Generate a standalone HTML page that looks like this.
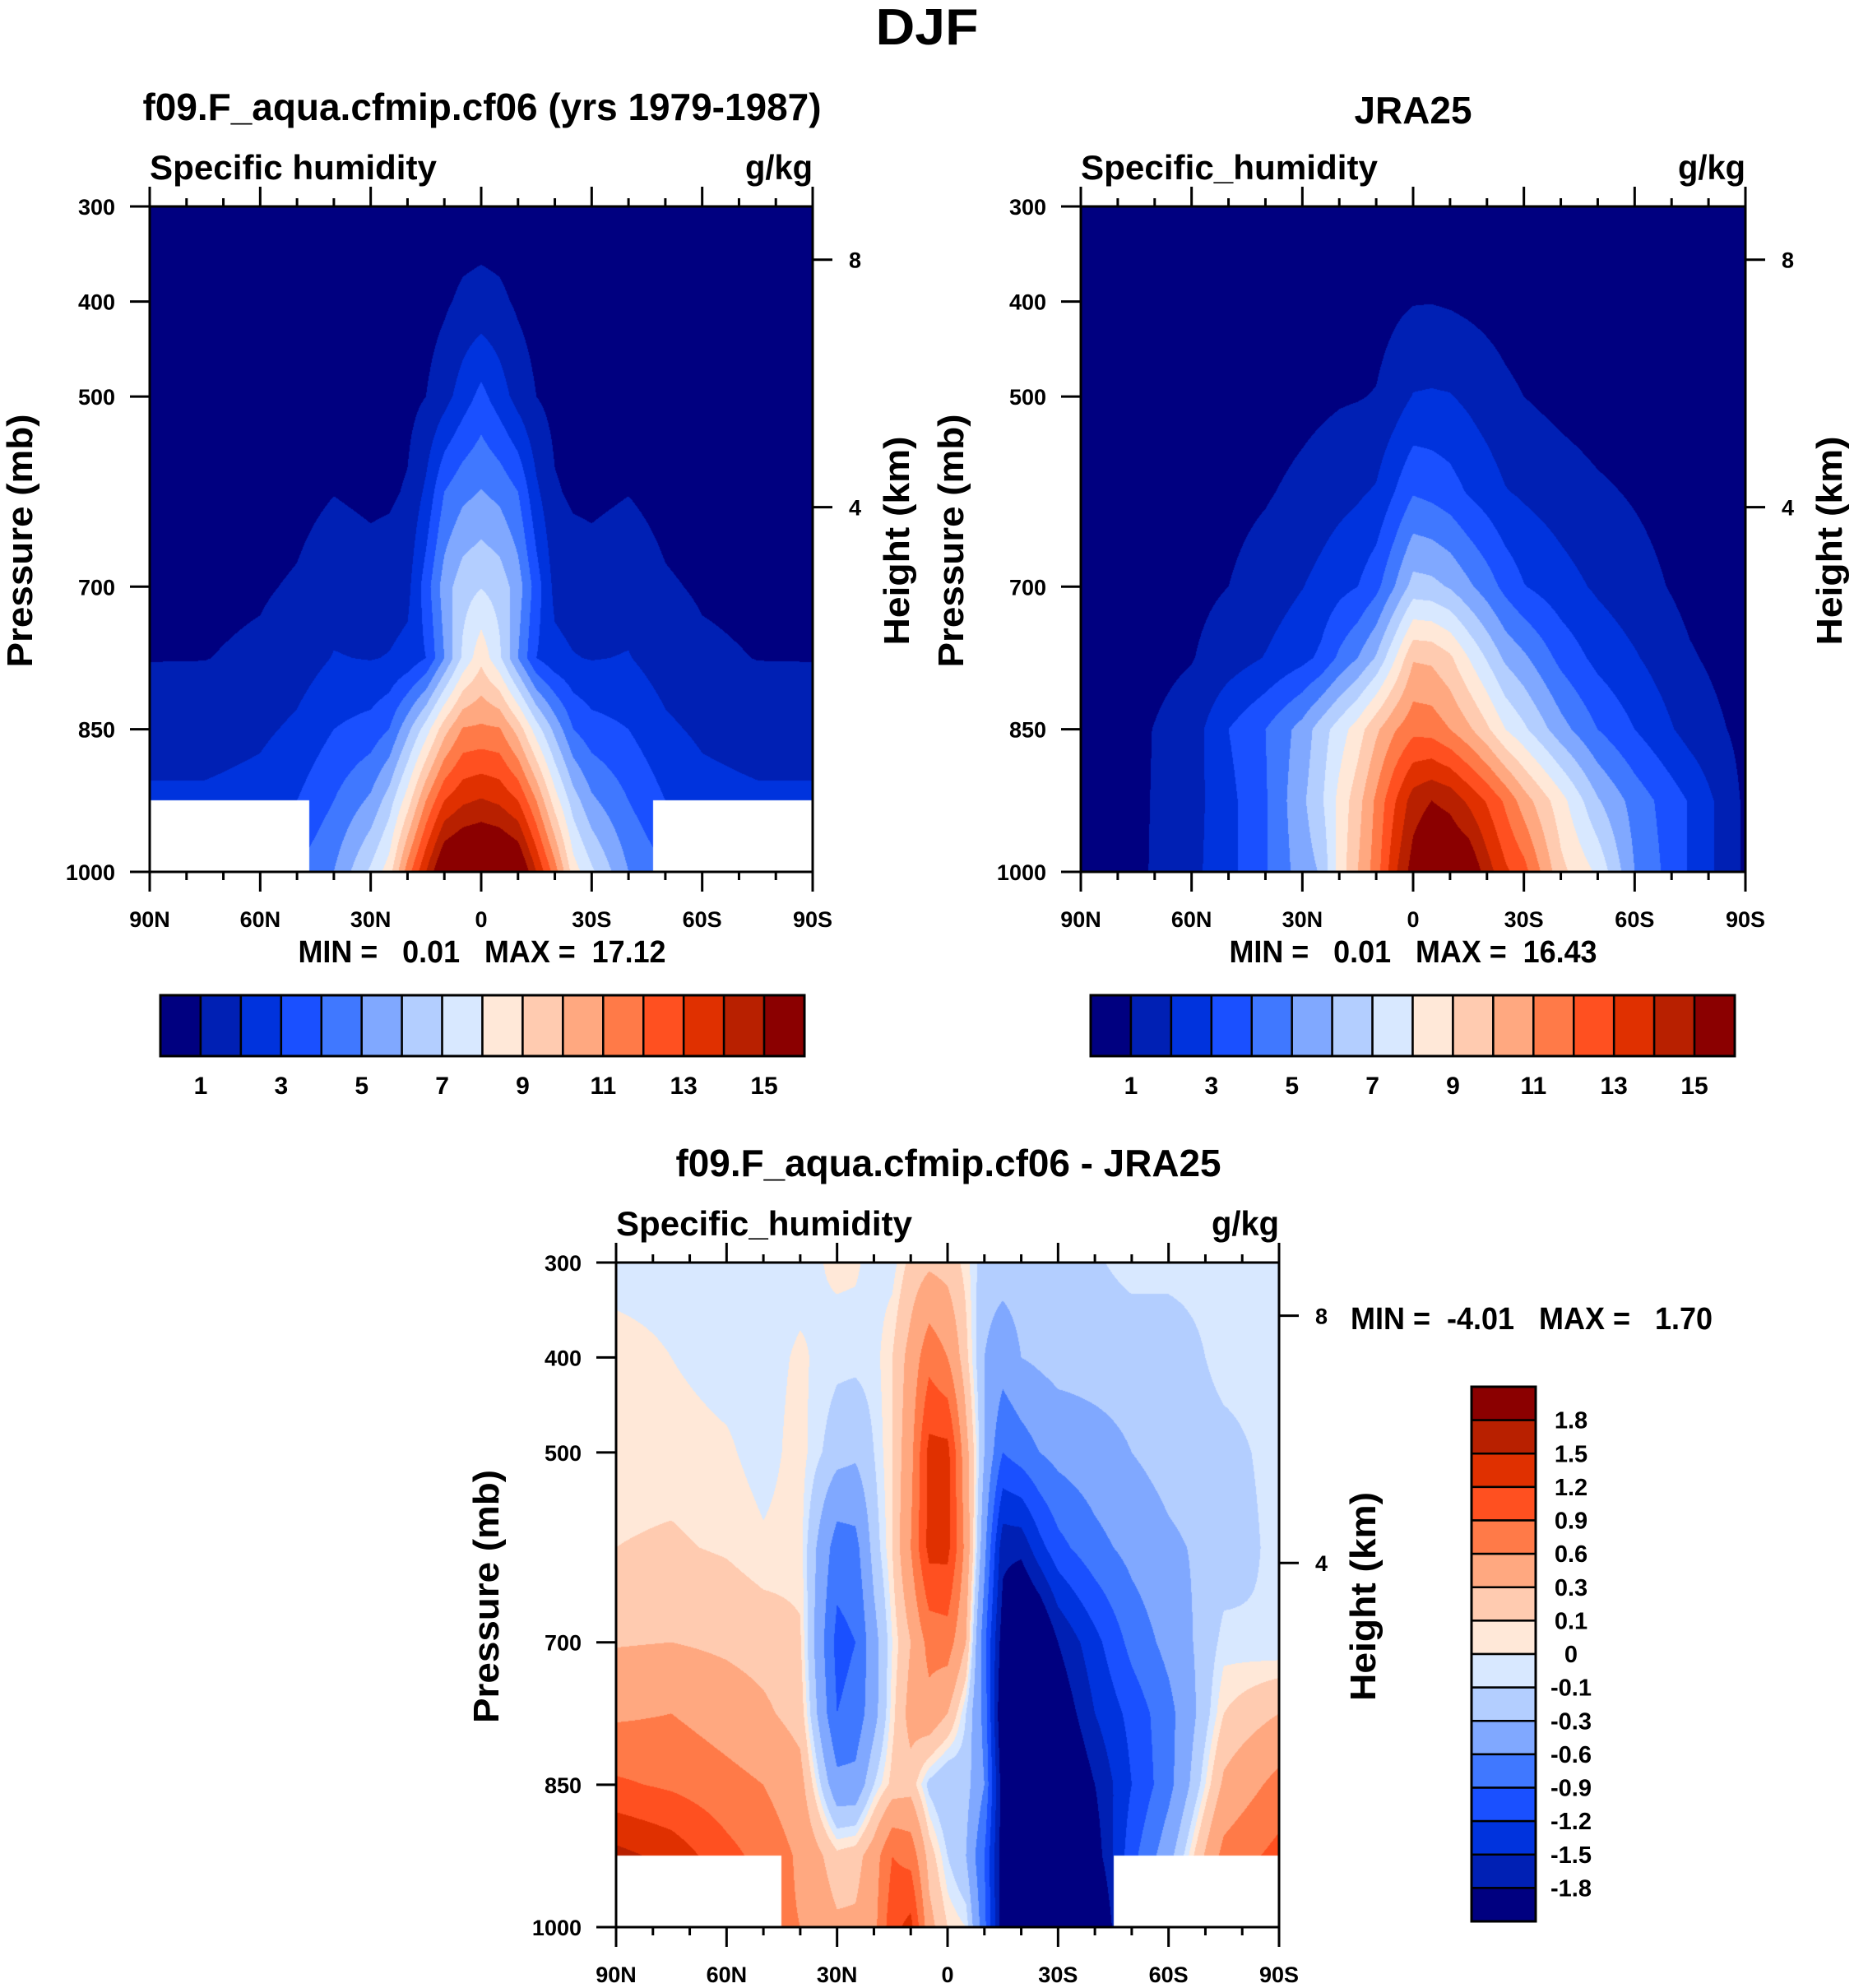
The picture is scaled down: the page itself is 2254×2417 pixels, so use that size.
<!DOCTYPE html>
<html><head><meta charset="utf-8">
<style>
html,body{margin:0;padding:0;background:#fff;}
#root{position:relative;width:2254px;height:2417px;overflow:hidden;background:#fff;}
canvas{position:absolute;}
svg{position:absolute;left:0;top:0;}
text{font-family:"Liberation Sans",Arial,sans-serif;font-weight:bold;fill:#000;}
</style></head>
<body>
<div id="root">
<canvas id="c1" width="806" height="809" style="left:182px;top:251px"></canvas>
<canvas id="c2" width="808" height="809" style="left:1314px;top:251px"></canvas>
<canvas id="c3" width="806" height="808" style="left:749px;top:1535px"></canvas>
<svg id="ov" width="2254" height="2417">
<text x="1127" y="54" text-anchor="middle" font-size="62" textLength="125" lengthAdjust="spacingAndGlyphs">DJF</text>
<text x="586" y="146" text-anchor="middle" font-size="46" textLength="825" lengthAdjust="spacingAndGlyphs">f09.F_aqua.cfmip.cf06 (yrs 1979-1987)</text>
<text x="1718" y="150" text-anchor="middle" font-size="46" textLength="143" lengthAdjust="spacingAndGlyphs">JRA25</text>
<text x="1153" y="1430" text-anchor="middle" font-size="46" textLength="663" lengthAdjust="spacingAndGlyphs">f09.F_aqua.cfmip.cf06 - JRA25</text>
</svg>
</div>
<script>
// ---- data ----
const lats = [90,75,60,50,40,30,25,20,15,10,5,0,-5,-10,-15,-20,-25,-30,-40,-50,-60,-75,-90];
const presLevels = [300,400,500,600,700,775,850,925,1000];
const levelsQ = [1,2,3,4,5,6,7,8,9,10,11,12,13,14,15];
const levelsDiff = [-1.8,-1.5,-1.2,-0.9,-0.6,-0.3,-0.1,0,0.1,0.3,0.6,0.9,1.2,1.5,1.8];
const labelsQ = ['1','3','5','7','9','11','13','15'];
const labelsDiff = ['1.8','1.5','1.2','0.9','0.6','0.3','0.1','0','-0.1','-0.3','-0.6','-0.9','-1.2','-1.5','-1.8'];
const latTickLabels = ['90N','60N','30N','0','30S','60S','90S'];
const pressureTicks = [300,400,500,700,850,1000];
const heightTicksKm = [8,4];
const palette = ['#000080','#0020b4','#0033dd','#1a50ff','#4078ff','#80a8ff','#b3ceff','#d8e8ff','#ffe8d8','#ffcbb0','#ffa880','#ff7a48','#ff5020','#e03000','#b82000','#8b0000'];
const modelQ = [
[.1,.1,.1,.1,.15,.2,.2,.3,.35,.35,.42,.45,.42,.35,.35,.3,.2,.2,.15,.1,.1,.1,.1],
[.2,.2,.2,.25,.3,.3,.35,.45,.6,.85,1.2,1.35,1.2,.85,.6,.45,.35,.3,.3,.25,.2,.2,.2],
[.3,.3,.35,.4,.55,.5,.55,.7,1.0,1.6,2.5,3.3,2.5,1.6,1.0,.7,.55,.5,.55,.4,.35,.3,.3],
[.5,.5,.55,.7,.97,.8,.85,1.1,2.2,4.0,4.7,5.05,4.7,4.0,2.2,1.1,.85,.8,.97,.7,.55,.5,.5],
[.75,.8,.9,1.1,1.6,1.4,1.5,1.7,3.5,5.5,6.6,6.95,6.6,5.5,3.5,1.7,1.5,1.4,1.6,1.1,.9,.8,.75],
[.97,.98,1.15,1.5,2.05,1.95,2.05,2.3,3.0,5.0,7.2,8.7,7.2,5.0,3.0,2.3,2.05,1.95,2.05,1.5,1.15,.98,.97],
[1.5,1.5,1.8,2.2,3.0,3.4,4.0,5.7,7.5,9.6,11.1,11.2,11.1,9.6,7.5,5.7,4.0,3.4,3.0,2.2,1.8,1.5,1.5],
[2.2,2.2,2.4,3.0,4.0,5.2,6.5,8.5,11,13,13.8,14.1,13.8,13,11,8.5,6.5,5.2,4.0,3.0,2.4,2.2,2.2],
[2.8,2.8,3.0,4.0,5.0,7.2,8.5,11.5,14,16.5,17,17.1,17,16.5,14,11.5,8.5,7.2,5.0,4.0,3.0,2.8,2.8]
];
const jraQ = [
[.05,.05,.08,.1,.12,.15,.17,.2,.22,.25,.28,.3,.3,.3,.28,.25,.22,.2,.15,.1,.08,.06,.05],
[.05,.08,.1,.15,.2,.3,.35,.4,.5,.6,.8,.95,.97,.9,.8,.7,.6,.5,.35,.25,.2,.1,.08],
[.1,.15,.25,.35,.5,.7,.8,.9,.95,1.05,1.5,2.05,2.1,2.05,1.8,1.5,1.2,1.0,.7,.5,.4,.2,.15],
[.2,.3,.5,.7,.9,1.25,1.45,1.65,1.85,2.1,3.0,3.9,3.7,3.4,2.9,2.5,2.05,1.85,1.5,1.15,.9,.5,.3],
[.3,.5,.75,1.0,1.45,1.97,2.3,2.7,3.0,3.7,5.0,6.4,6.3,5.9,5.2,4.5,3.7,3.05,2.4,1.85,1.4,.7,.4],
[.4,.6,.95,1.5,2.05,2.7,3.2,4.2,5.0,6.1,7.9,9.9,9.8,9.2,8.0,6.9,5.8,5.2,3.7,2.7,2.1,1.1,.5],
[.5,.8,1.5,3.0,4.0,5.4,6.5,7.5,8.5,9.8,10.9,11.7,11.6,11.0,10.2,9.2,8.0,7.2,5.4,4.0,3.0,1.6,.7],
[.5,.8,1.6,2.7,3.9,5.8,6.8,8.3,9.6,11.2,12.9,14.5,15.0,14.7,13.8,12.9,11.8,10.5,8.4,6.1,4.6,2.9,.8],
[.5,.8,1.7,2.7,3.9,5.5,6.1,8.4,10,11.5,13.8,15.5,16.4,16.3,16.1,14.5,13.2,12.4,9.3,7.8,5.0,2.9,.8]
];
const diffQ = [
[-.05,-.05,-.05,-.05,-.05,.03,.02,-.05,-.05,.15,.25,.2,.05,-.2,-.2,-.2,-.2,-.15,-.12,-.05,-.05,-.05,-.05],
[.05,0,-.05,-.05,.02,-.06,-.06,-.05,.1,.4,.8,.6,.15,-.3,-.45,-.3,-.25,-.2,-.2,-.2,-.2,-.05,-.05],
[.05,.05,.02,-.05,.05,-.2,-.25,-.1,.1,.5,1.3,1.3,.4,-.3,-.9,-.75,-.6,-.5,-.4,-.3,-.2,-.15,-.05],
[.1,.12,.08,.02,.05,-.75,-.7,-.2,.1,.6,1.3,1.3,.5,-.5,-1.7,-1.7,-1.3,-1.0,-.7,-.5,-.35,-.2,-.05],
[.28,.3,.25,.2,.12,-1.0,-.9,-.4,0,.3,.7,.75,.3,-.8,-2.0,-2.5,-2.3,-1.8,-1.3,-.8,-.5,-.05,-.1],
[.55,.6,.45,.35,.2,-.9,-.8,-.4,.05,.4,.5,.3,-.1,-.7,-2.2,-2.5,-2.5,-2.1,-1.5,-1.1,-.7,.1,.3],
[.95,.85,.7,.6,.4,-.5,-.5,-.1,.15,.2,-.15,-.3,-.2,-.6,-2.0,-2.5,-2.5,-2.4,-1.8,-1.2,-.7,.35,.7],
[1.6,1.4,1.0,.8,.55,.15,.2,.45,.9,.8,.2,-.1,-.3,-.9,-2.0,-2.5,-2.5,-2.5,-2.0,-1.0,-.4,.7,1.0],
[1.5,1.2,.9,.7,.6,.35,.35,.5,1.1,1.3,.4,.1,0,-.8,-2.0,-2.5,-2.5,-2.5,-2.5,-1.0,.3,.9,1.2]
];
const modelMask = {lat:46.6, p:925};
const diffMask = {lat:45, p:925};
const minMaxText = ['MIN =   0.01   MAX =  17.12','MIN =   0.01   MAX =  16.43','MIN =  -4.01   MAX =   1.70'];

// ---- scales ----
function seg(arr, v, desc){
  for(let i=0;i<arr.length-1;i++){
    const a=arr[i], b=arr[i+1];
    if(desc ? (v<=a && v>=b) : (v>=a && v<=b)) return [i,(v-a)/(b-a)];
  }
  return desc ? (v>arr[0]?[0,0]:[arr.length-2,1]) : (v<arr[0]?[0,0]:[arr.length-2,1]);
}
function sample(data, lat, p){
  const [i,tx]=seg(lats,lat,true), [j,ty]=seg(presLevels,p,false);
  const a=data[j][i], b=data[j][i+1], c=data[j+1][i], d=data[j+1][i+1];
  return (a*(1-tx)+b*tx)*(1-ty)+(c*(1-tx)+d*tx)*ty;
}
function hex(h){return [parseInt(h.slice(1,3),16),parseInt(h.slice(3,5),16),parseInt(h.slice(5,7),16)];}
const pal = palette.map(hex);
function drawField(id, data, levels, mask){
  const cv=document.getElementById(id), ctx=cv.getContext('2d');
  const W=cv.width, H=cv.height, img=ctx.createImageData(W,H);
  for(let y=0;y<H;y++){
    const p=300+(y+0.5)/H*700;
    for(let x=0;x<W;x++){
      const lat=90-(x+0.5)/W*180;
      let col;
      if(mask && p>mask.p && Math.abs(lat)>mask.lat) col=[255,255,255];
      else{
        const v=sample(data,lat,p);
        let k=0; while(k<levels.length && v>=levels[k]) k++;
        col=pal[k];
      }
      const o=(y*W+x)*4;
      img.data[o]=col[0];img.data[o+1]=col[1];img.data[o+2]=col[2];img.data[o+3]=255;
    }
  }
  ctx.putImageData(img,0,0);
}
drawField('c1', modelQ, levelsQ, modelMask);
drawField('c2', jraQ, levelsQ, null);
drawField('c3', diffQ, levelsDiff, diffMask);

// ---- axes ----
const NS='http://www.w3.org/2000/svg';
const svg=document.getElementById('ov');
function mk(tag, attrs, txt){
  const e=document.createElementNS(NS,tag);
  for(const k in attrs) e.setAttribute(k,attrs[k]);
  if(txt!==undefined) e.textContent=txt;
  svg.appendChild(e); return e;
}
function heightToP(km){return 1013.25*Math.pow(1-2.25577e-5*km*1000,5.25588);}
const panels=[
 {L:182,T:251,W:806,H:809,sub:'Specific humidity',subLen:349,pX:39,hX:1105,mm:0,mmX:586,mmY:1170,mmLen:447},
 {L:1314,T:251,W:808,H:809,sub:'Specific_humidity',subLen:361,pX:1171,hX:2239,mm:1,mmX:1718,mmY:1170,mmLen:447},
 {L:749,T:1535,W:806,H:808,sub:'Specific_humidity',subLen:360,pX:606,hX:1672,mm:2,mmX:1862,mmY:1616,mmLen:440}
];
panels.forEach((P,pi)=>{
  const R=P.L+P.W, B=P.T+P.H;
  const xs=lat=>P.L+(90-lat)/180*P.W;
  const ys=p=>P.T+(p-300)/700*P.H;
  let e;
  e=mk('rect',{x:P.L,y:P.T,width:P.W,height:P.H,fill:'none',stroke:'#000','stroke-width':3});
  
  
  for(let lat=90;lat>=-90;lat-=10){
    const major=(lat%30===0), len=major?24:10, x=xs(lat);
    e=mk('line',{x1:x,y1:P.T,x2:x,y2:P.T-len,stroke:'#000','stroke-width':3});
    
    
    e=mk('line',{x1:x,y1:B,x2:x,y2:B+len,stroke:'#000','stroke-width':3});
    
    
  }
  latTickLabels.forEach((t,i)=>{
    const lat=90-i*30;
    e=mk('text',{x:xs(lat),y:B+67,'text-anchor':'middle','font-size':27},t);
    
    
  });
  pressureTicks.forEach(p=>{
    const y=ys(p);
    e=mk('line',{x1:P.L,y1:y,x2:P.L-24,y2:y,stroke:'#000','stroke-width':3});
    
    
    e=mk('text',{x:P.L-42,y:y+10,'text-anchor':'end','font-size':27},String(p));
    
    
  });
  heightTicksKm.forEach(km=>{
    const y=ys(heightToP(km));
    e=mk('line',{x1:R,y1:y,x2:R+24,y2:y,stroke:'#000','stroke-width':3});
    
    
    e=mk('text',{x:R+44,y:y+10,'text-anchor':'start','font-size':27},String(km));
    
    
  });
  e=mk('text',{x:P.L,y:P.T-33,'font-size':42,textLength:P.subLen,lengthAdjust:'spacingAndGlyphs'},P.sub);
  
  
  e=mk('text',{x:R,y:P.T-33,'text-anchor':'end','font-size':42,textLength:82,lengthAdjust:'spacingAndGlyphs'},'g/kg');
  
  
  const cy=P.T+P.H/2+2;
  e=mk('text',{x:P.pX,y:cy,'text-anchor':'middle','font-size':44,textLength:308,lengthAdjust:'spacingAndGlyphs',transform:`rotate(-90 ${P.pX} ${cy})`},'Pressure (mb)');
  
  
  e=mk('text',{x:P.hX,y:cy,'text-anchor':'middle','font-size':44,textLength:254,lengthAdjust:'spacingAndGlyphs',transform:`rotate(-90 ${P.hX} ${cy})`},'Height (km)');
  
  
  e=mk('text',{x:P.mmX,y:P.mmY,'text-anchor':'middle','font-size':38,textLength:P.mmLen,lengthAdjust:'spacingAndGlyphs','xml:space':'preserve'},minMaxText[P.mm]);
  e.style.whiteSpace='pre';
  
  
});

// ---- horizontal colorbars ----
[195,1326].forEach(x0=>{
  const w=783, y0=1210, h=74, n=palette.length, bw=w/n;
  let e;
  palette.forEach((c,i)=>{
    e=mk('rect',{x:x0+i*bw,y:y0,width:bw,height:h,fill:c,stroke:'#000','stroke-width':2.5});
    
    
  });
  e=mk('rect',{x:x0,y:y0,width:w,height:h,fill:'none',stroke:'#000','stroke-width':3});
  
  
  labelsQ.forEach((t,i)=>{
    const k=levelsQ.indexOf(Number(t))+1;
    e=mk('text',{x:x0+k*bw,y:1330,'text-anchor':'middle','font-size':30},t);
    
    
  });
});
// ---- vertical colorbar ----
(function(){
  const x0=1789, w=78, y0=1686, h=650, n=palette.length, bh=h/n;
  let e;
  for(let i=0;i<n;i++){
    e=mk('rect',{x:x0,y:y0+i*bh,width:w,height:bh,fill:palette[n-1-i],stroke:'#000','stroke-width':2.5});
    
    
  }
  e=mk('rect',{x:x0,y:y0,width:w,height:h,fill:'none',stroke:'#000','stroke-width':3});
  
  
  labelsDiff.forEach((t,i)=>{
    e=mk('text',{x:1910,y:y0+(i+1)*bh+10,'text-anchor':'middle','font-size':29},t);
    
    
  });
})();
</script>
</body></html>
